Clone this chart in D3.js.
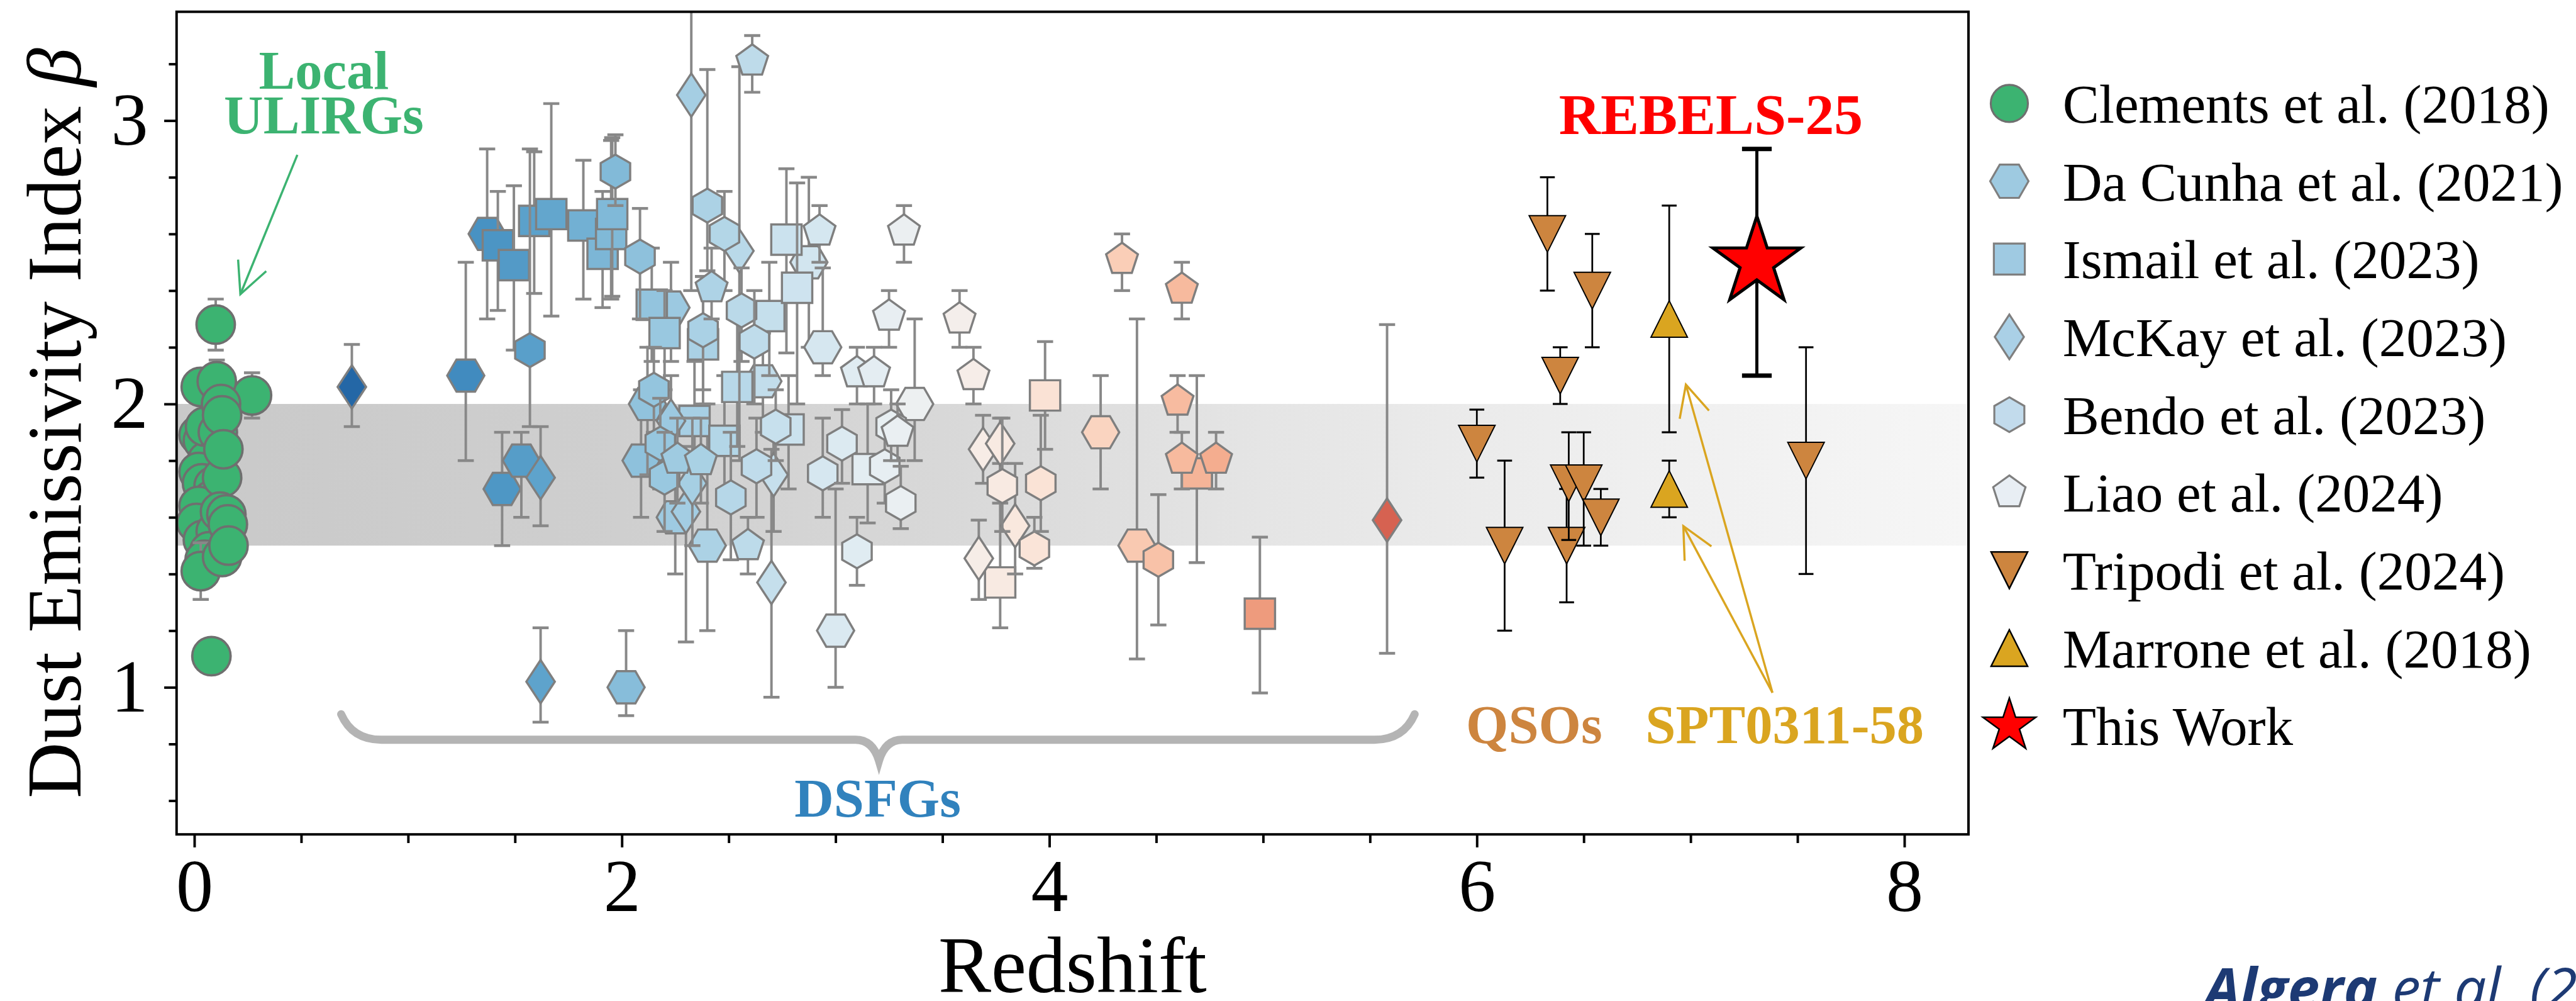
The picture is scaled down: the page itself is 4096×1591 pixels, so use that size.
<!DOCTYPE html>
<html><head><meta charset="utf-8">
<script src="https://cdn.jsdelivr.net/npm/d3@7"></script>
<style>html,body{margin:0;padding:0;background:#fff;overflow:hidden}</style>
</head><body>
<svg id="chart" width="4096" height="1591" viewBox="0 0 4160 1616"></svg>
<script>
// ---------------- DATA (z, beta, lower bound, upper bound) ----------------
const clements = [
 [0.10,2.28,2.19,2.37],[0.08,1.11,null,null],[0.27,2.03,1.95,2.11],[0.03,2.06,null,null],
 [0.105,2.08,2.00,2.155],[0.02,1.89,null,null],[0.04,1.87,null,null],[0.06,1.80,null,null],
 [0.05,1.92,null,null],[0.11,1.90,null,null],[0.125,2.00,null,null],[0.13,1.96,null,null],
 [0.02,1.76,null,null],[0.036,1.72,null,null],[0.09,1.71,null,null],[0.08,1.66,null,null],
 [0.02,1.64,null,null],[0.01,1.58,null,null],[0.04,1.52,null,null],[0.10,1.55,null,null],
 [0.07,1.48,null,null],[0.048,1.45,null,null],[0.03,1.41,1.31,1.51],[0.13,1.74,null,null],
 [0.136,1.84,null,null],[0.12,1.62,null,null],[0.15,1.61,null,null],[0.157,1.575,null,null],
 [0.13,1.46,null,null],[0.16,1.50,null,null]
];
const daCunha = [
 [1.27,2.10,1.80,2.50],[1.37,2.60,2.30,2.90],[1.44,1.70,1.50,1.90],[1.53,1.80,1.60,1.90],
 [2.02,1.00,0.90,1.20],[3.00,1.20,1.00,1.70],[2.09,1.80,1.60,2.05],[2.12,2.00,1.75,2.20],
 [2.23,2.34,2.15,2.50],[2.25,1.60,1.40,1.85],[2.40,1.50,1.20,2.00],[2.66,2.08,1.90,2.25],
 [2.875,2.50,2.20,2.80],[2.94,2.20,2.10,2.48],[3.37,2.00,1.80,2.30],[4.24,1.90,1.70,2.10],
 [4.41,1.50,1.10,2.30]
];
const ismail = [
 [1.42,2.56,2.33,2.75],[1.495,2.49,2.19,2.77],[1.59,2.646,2.39,2.89],[1.67,2.67,2.31,3.06],
 [1.82,2.63,2.37,2.86],[1.91,2.53,2.34,2.75],[1.95,2.60,2.37,2.93],[1.955,2.67,2.38,2.94],
 [2.14,2.35,2.15,2.55],[2.20,2.25,2.05,2.40],[2.34,1.94,1.75,2.15],[2.38,2.21,2.00,2.45],
 [2.48,1.87,1.65,2.10],[2.54,2.06,1.85,2.30],[2.69,2.31,2.10,2.50],[2.77,2.58,2.18,2.83],
 [2.78,1.91,1.70,2.10],[2.82,2.41,2.00,2.78],[3.15,1.77,1.58,2.00],[3.77,1.37,1.21,1.79],
 [3.98,2.03,1.84,2.22],[4.69,1.755,1.44,2.10],[4.985,1.26,0.98,1.53]
];
const mckay = [
 [0.737,2.06,1.92,2.21],[1.62,1.74,1.57,1.92],[1.62,1.02,0.877,1.21],[2.325,3.09,2.40,3.60],
 [2.23,1.94,1.75,2.10],[2.30,1.62,1.16,1.85],[2.33,1.72,1.50,1.95],[2.55,2.54,1.80,3.19],
 [2.70,1.37,0.965,1.84],[2.71,1.75,1.55,1.95],[3.67,1.455,1.31,1.59],[3.69,1.84,1.72,1.96],
 [3.77,1.86,1.65,1.95],[3.84,1.57,1.40,1.79],[5.58,1.59,1.12,2.28]
];
const bendo = [
 [1.57,2.19,1.92,2.90],[1.97,2.82,2.70,2.95],[2.085,2.52,2.30,2.69],[2.15,2.05,1.90,2.20],
 [2.18,1.86,1.70,2.02],[2.20,1.74,1.55,1.90],[2.38,2.26,2.05,2.45],[2.40,2.70,2.47,3.18],
 [2.48,2.60,2.40,2.75],[2.51,1.67,1.45,1.90],[2.56,2.33,2.15,2.48],[2.62,2.22,2.00,2.40],
 [2.63,1.78,1.60,1.95],[2.72,1.92,1.80,2.05],[2.94,1.755,1.60,1.95],[3.03,1.86,1.72,1.98],
 [3.10,1.48,1.36,1.60],[3.23,1.78,1.65,1.92],[3.26,1.92,1.80,2.05],[3.305,1.65,1.56,1.78],
 [3.78,1.71,1.55,1.95],[3.93,1.49,1.42,1.60],[3.96,1.72,1.55,1.96],[4.51,1.45,1.22,1.68]
];
const liao = [
 [2.26,1.805,1.65,1.95],[2.37,1.80,1.65,1.95],[2.42,2.41,2.30,2.55],[2.59,1.50,1.40,1.60],
 [2.61,3.21,3.10,3.30],[2.925,2.61,2.50,2.70],[3.10,2.11,2.00,2.20],[3.18,2.11,2.00,2.20],
 [3.25,2.31,2.20,2.40],[3.29,1.90,1.80,2.00],[3.32,2.61,2.50,2.70],[3.58,2.30,2.20,2.40],
 [3.645,2.10,2.00,2.20],[4.34,2.51,2.40,2.60],[4.60,2.01,1.90,2.10],[4.62,2.405,2.30,2.50],
 [4.62,1.805,1.70,1.90],[4.78,1.805,1.70,1.90]
];
const tripodi = [
 [6.00,1.86,1.74,1.98],[6.13,1.50,1.20,1.80],[6.33,2.60,2.40,2.80],[6.39,2.10,2.00,2.20],
 [6.42,1.50,1.30,1.70],[6.43,1.72,1.52,1.90],[6.50,1.72,1.50,1.90],[6.54,2.40,2.20,2.60],
 [6.58,1.60,1.50,1.70],[7.54,1.80,1.40,2.20]
];
const marrone = [[6.90,2.30,1.90,2.70],[6.90,1.70,1.60,1.80]];
const thisWork = [[7.31,2.50,2.10,2.90]];

const xTicks = [0,2,4,6,8];
const yTicks = [1,2,3];
const legendNames = ["Clements et al. (2018)","Da Cunha et al. (2021)","Ismail et al. (2023)",
 "McKay et al. (2023)","Bendo et al. (2023)","Liao et al. (2024)","Tripodi et al. (2024)",
 "Marrone et al. (2018)","This Work"];
const legendColors = ["#3cb371","#9ecae1","#9fcae2","#aad0e6","#c2dbec","#e8eef4","#cd853f","#daa520","#ff0000"];
const bandStops = [[-0.083,"#c9c9c9"],[2,"#cfcfcf"],[3.5,"#d8d8d8"],[5,"#e5e5e5"],[6.5,"#eeeeee"],[8.3,"#f6f6f6"]];

// ---------------- SCALES ----------------
const x = d3.scaleLinear().domain([-0.083, 8.30]).range([285, 3179]);
const y = d3.scaleLinear().domain([0.481, 3.384]).range([1347, 19]);
const dsfgColor = z => d3.interpolateRdBu(1 - z/7);

const svg = d3.select('#chart');
const defs = svg.append('defs');
const grad = defs.append('linearGradient').attr('id','band').attr('gradientUnits','userSpaceOnUse')
  .attr('x1', x.range()[0]).attr('x2', x.range()[1]).attr('y1',0).attr('y2',0);
bandStops.forEach(s => grad.append('stop').attr('offset', (s[0]+0.083)/8.383).attr('stop-color', s[1]));
defs.append('clipPath').attr('id','clip').append('rect')
  .attr('x', x.range()[0]).attr('y', y.range()[1]).attr('width', x.range()[1]-x.range()[0]).attr('height', y.range()[0]-y.range()[1]);

// band 1.5 - 2.0
svg.append('rect').attr('x', x.range()[0]).attr('y', y(2.0)).attr('width', x.range()[1]-x.range()[0])
  .attr('height', y(1.5)-y(2.0)).attr('fill','url(#band)');

// ---------------- SHAPES ----------------
function poly(n, R, rot){
  const pts = d3.range(n).map(i => { const a=(rot+360*i/n)*Math.PI/180; return [R*Math.cos(a), R*Math.sin(a)]; });
  return 'M' + pts.map(p => p[0].toFixed(2)+','+p[1].toFixed(2)).join('L') + 'Z';
}
const shape = {
  circle: r => `M${-r},0A${r},${r} 0 1,0 ${r},0A${r},${r} 0 1,0 ${-r},0Z`,
  hexH: R => poly(6, R, 0),
  hexV: R => poly(6, R, -90),
  square: s => `M${-s/2},${-s/2}h${s}v${s}h${-s}Z`,
  diamond: (w,h) => `M0,${-h}L${w},0L0,${h}L${-w},0Z`,
  pentagon: R => poly(5, R, -90),
  triDown: a => `M${-a},${-a}L${a},${-a}L0,${a}Z`,
  triUp: a => `M0,${-a}L${a},${a}L${-a},${a}Z`,
  star: R => { const pts = d3.range(10).map(i => { const r = i%2 ? R*0.381966 : R; const a=(-90+36*i)*Math.PI/180; return [r*Math.cos(a), r*Math.sin(a)]; });
    return 'M' + pts.map(p => p[0].toFixed(2)+','+p[1].toFixed(2)).join('L') + 'Z'; }
};

const plot = svg.append('g').attr('clip-path','url(#clip)');

function series(data, d, fill, stroke, sw, ecol, esw, cap, capw){
  data.forEach(p => {
    const g = plot.append('g');
    const [z, b, lo, hi] = p;
    if (lo !== null) {
      g.append('line').attr('x1', x(z)).attr('x2', x(z)).attr('y1', y(lo)).attr('y2', y(hi))
        .attr('stroke', ecol).attr('stroke-width', esw);
      [lo, hi].forEach(v => g.append('line').attr('x1', x(z)-cap).attr('x2', x(z)+cap)
        .attr('y1', y(v)).attr('y2', y(v)).attr('stroke', ecol).attr('stroke-width', capw));
    }
    g.append('path').attr('d', d).attr('transform', `translate(${x(z)},${y(b)})`)
      .attr('fill', typeof fill === 'function' ? fill(z) : fill)
      .attr('stroke', stroke).attr('stroke-width', sw).attr('stroke-linejoin','miter');
  });
}
const G = '#7f7f7f', EG = '#888888';
series(clements, shape.circle(31), '#3cb371', '#6f6f6f', 3.8, EG, 4, 13, 4.5);
series(daCunha, shape.hexH(30), dsfgColor, G, 3.5, EG, 4, 13, 4.5);
series(ismail, shape.square(49), dsfgColor, G, 3.5, EG, 4, 13, 4.5);
series(mckay, shape.diamond(23, 35), dsfgColor, G, 3.5, EG, 4, 13, 4.5);
series(bendo, shape.hexV(27.5), dsfgColor, G, 3.5, EG, 4, 13, 4.5);
series(liao, shape.pentagon(27), dsfgColor, G, 3.5, EG, 4, 13, 4.5);
series(tripodi, shape.triDown(29.5), '#cd853f', '#000', 2, '#000', 2.8, 12, 3.2);
series(marrone, shape.triUp(29.5), '#daa520', '#000', 2, '#000', 2.8, 12, 3.2);
// star: errorbar then marker
thisWork.forEach(p => {
  const [z,b,lo,hi] = p;
  plot.append('line').attr('x1',x(z)).attr('x2',x(z)).attr('y1',y(lo)).attr('y2',y(hi)).attr('stroke','#000').attr('stroke-width',5);
  [lo,hi].forEach(v => plot.append('line').attr('x1',x(z)-24).attr('x2',x(z)+24).attr('y1',y(v)).attr('y2',y(v)).attr('stroke','#000').attr('stroke-width',7));
  plot.append('path').attr('d', shape.star(74.6)).attr('transform',`translate(${x(z)},${y(b)})`)
    .attr('fill','#ff0000').attr('stroke','#000').attr('stroke-width',5).attr('stroke-linejoin','miter');
});

// ---------------- ANNOTATIONS ----------------
const serif = "'Liberation Serif','Times New Roman',serif";
function label(txt, z, b, col, size){
  svg.append('text').attr('x', x(z)).attr('y', y(b)).attr('text-anchor','middle')
    .attr('font-family', serif).attr('font-weight','bold').attr('font-size', size).attr('fill', col).text(txt);
}
label('Local', 0.606, 3.113, '#3cb371', 88);
label('ULIRGs', 0.606, 2.955, '#3cb371', 88);
label('REBELS-25', 7.095, 2.953, '#ff0000', 93);
label('QSOs', 6.268, 0.804, '#cd853f', 88);
label('SPT0311-58', 7.44, 0.804, '#daa520', 88);
label('DSFGs', 3.197, 0.544, '#3182bd', 88);

function arrow(z0,b0,z1,b1,col){
  const X0=x(z0), Y0=y(b0), X1=x(z1), Y1=y(b1);
  const ang = Math.atan2(Y0-Y1, X0-X1), L = 56, s = 26*Math.PI/180;
  const g = svg.append('g').attr('stroke', col).attr('stroke-width', 3.5).attr('fill','none');
  g.append('line').attr('x1',X0).attr('y1',Y0).attr('x2',X1).attr('y2',Y1);
  g.append('path').attr('d', `M${X1+L*Math.cos(ang+s)},${Y1+L*Math.sin(ang+s)}L${X1},${Y1}L${X1+L*Math.cos(ang-s)},${Y1+L*Math.sin(ang-s)}`);
}
arrow(0.482, 2.879, 0.2155, 2.387, '#3cb371');
arrow(7.383, 0.981, 6.978, 2.068, '#daa520');
arrow(7.383, 0.981, 6.966, 1.569, '#daa520');

// brace
const bY = y(0.815), bL = x(0.687), bR = x(5.709), bC = x(3.203);
svg.append('path').attr('fill','none').attr('stroke','#b4b4b4').attr('stroke-width',13).attr('stroke-linecap','round')
  .attr('d', `M${bL},${y(0.905)}Q${bL+18},${bY} ${bL+65},${bY}L${bC-38},${bY}Q${bC-10},${bY} ${bC},${y(0.741)}Q${bC+10},${bY} ${bC+38},${bY}L${bR-65},${bY}Q${bR-18},${bY} ${bR},${y(0.905)}`);

// ---------------- AXES ----------------
const ax = svg.append('g').attr('font-family', serif);
function styleAxis(g, fs){ g.select('.domain').remove(); g.selectAll('.tick line').attr('stroke','#000').attr('stroke-width',4);
  g.selectAll('.tick text').attr('font-size', fs).attr('fill','#000').attr('font-family', serif); }
const xMinor = d3.range(0, 8.01, 0.5).filter(v => v % 2 !== 0);
const yMinor = d3.range(0.6, 3.31, 0.2).map(v => +v.toFixed(1)).filter(v => Math.abs(v - Math.round(v)) > 0.01);
ax.append('g').attr('transform',`translate(0,${y.range()[0]})`).call(d3.axisBottom(x).tickValues(xMinor).tickSize(14).tickFormat('')).call(g=>styleAxis(g,0));
ax.append('g').attr('transform',`translate(0,${y.range()[0]})`).call(d3.axisBottom(x).tickValues(xTicks).tickSize(21).tickPadding(18).tickFormat(d3.format('d'))).call(g=>styleAxis(g,120));
ax.append('g').attr('transform',`translate(${x.range()[0]},0)`).call(d3.axisLeft(y).tickValues(yMinor).tickSize(12.5).tickFormat('')).call(g=>styleAxis(g,0));
ax.append('g').attr('transform',`translate(${x.range()[0]},0)`).call(d3.axisLeft(y).tickValues(yTicks).tickSize(20).tickPadding(26).tickFormat(d3.format('d'))).call(g=>styleAxis(g,120));

// frame
svg.append('rect').attr('x', x.range()[0]).attr('y', y.range()[1]).attr('width', x.range()[1]-x.range()[0])
  .attr('height', y.range()[0]-y.range()[1]).attr('fill','none').attr('stroke','#000').attr('stroke-width',4);

// axis labels
svg.append('text').attr('x', (x.range()[0]+x.range()[1])/2).attr('y', 1602).attr('text-anchor','middle')
  .attr('font-family', serif).attr('font-size', 128).text('Redshift');
const yl = svg.append('text').attr('transform', `translate(130,${(y.range()[0]+y.range()[1])/2}) rotate(-90)`)
  .attr('text-anchor','middle').attr('font-family', serif).attr('font-size', 125);
yl.append('tspan').text('Dust Emissivity Index ');
yl.append('tspan').attr('font-style','italic').text('β');

// ---------------- LEGEND ----------------
const legShapes = [shape.circle(30), shape.hexH(31), shape.square(50), shape.diamond(23.5,36), shape.hexV(28),
  shape.pentagon(27.5), shape.triDown(29.5), shape.triUp(29.5), shape.star(45)];
const legStroke = ['#6f6f6f',G,G,G,G,G,'#000','#000','#000'];
const leg = svg.append('g');
legendNames.forEach((n,i) => {
  const cy = 167 + 125.6*i;
  leg.append('path').attr('d', legShapes[i]).attr('transform', `translate(3245,${cy})`).attr('fill', legendColors[i])
    .attr('stroke', legStroke[i]).attr('stroke-width', i >= 6 ? 2.5 : 3.2);
  leg.append('text').attr('x', 3331).attr('y', cy + 31).attr('font-family', serif).attr('font-size', 88.5).text(n);
});

// footnote
const fn = svg.append('text').attr('x', 3560).attr('y', 1628).attr('font-family', "'Open Sans',sans-serif")
  .attr('font-style','italic').attr('font-size', 92).attr('fill', '#1d3a74');
fn.append('tspan').attr('font-weight','bold').text('Algera');
fn.append('tspan').text(' et al. (2024)');
</script>
</body></html>
